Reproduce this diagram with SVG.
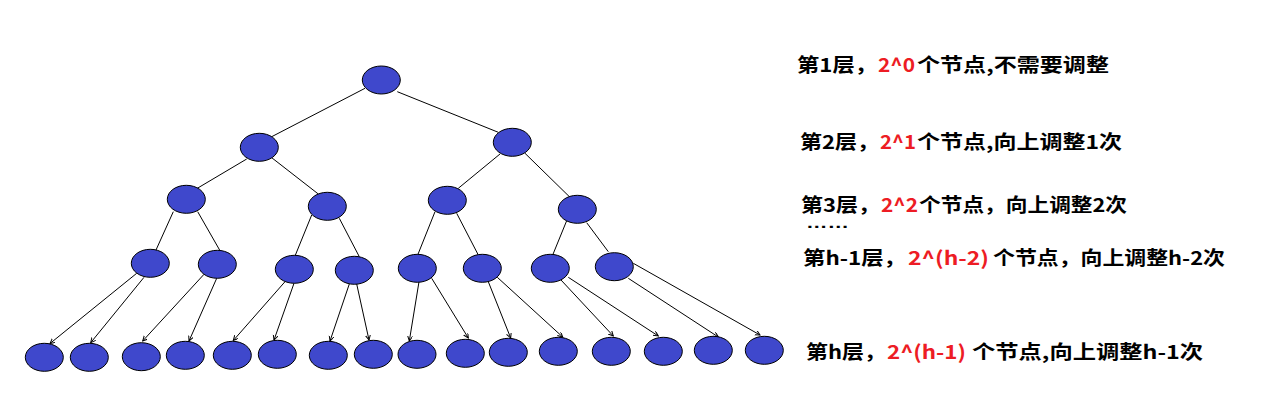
<svg xmlns="http://www.w3.org/2000/svg" width="1272" height="403" viewBox="0 0 1272 403">
<style>
.n{fill:#3F48CC;stroke:#000;stroke-width:1}
.e{stroke:#000;stroke-width:1;fill:none}
.a{marker-end:url(#arr)}
.t{font-family:"Noto Sans CJK SC","Liberation Sans",sans-serif;font-size:19px;font-weight:bold;fill:#000}
.r{fill:#ED1C24}
</style>
<defs>
<marker id="arr" markerWidth="8" markerHeight="8" refX="5" refY="2.5" orient="auto" markerUnits="userSpaceOnUse">
<path d="M0,0 L5,2.5 L0,5" fill="none" stroke="#000" stroke-width="1"/>
</marker>
</defs>
<rect width="1272" height="403" fill="#fff"/>
<g id="connectors">
<line class="e" x1="365" y1="88.3" x2="271.7" y2="136.7"/>
<line class="e" x1="397.3" y1="91.7" x2="498.3" y2="132.3"/>
<line class="e" x1="246.7" y1="159" x2="197.3" y2="188.3"/>
<line class="e" x1="271.7" y1="157.7" x2="318.3" y2="194"/>
<line class="e" x1="500" y1="154" x2="458.3" y2="188.3"/>
<line class="e" x1="525" y1="153.3" x2="570" y2="197.3"/>
<line class="e" x1="173.3" y1="211.7" x2="155.7" y2="250.7"/>
<line class="e" x1="197.7" y1="211.7" x2="220" y2="250.7"/>
<line class="e" x1="311.7" y1="215" x2="295" y2="256"/>
<line class="e" x1="339.3" y1="218.3" x2="359.3" y2="256.7"/>
<line class="e" x1="435" y1="211.7" x2="417.7" y2="255"/>
<line class="e" x1="456.7" y1="213.3" x2="478.3" y2="255"/>
<line class="e" x1="566.7" y1="220.7" x2="552.7" y2="255"/>
<line class="e" x1="586.7" y1="222.7" x2="608.3" y2="251.7"/>
<line class="e a" x1="136.7" y1="273.3" x2="50" y2="343.5"/>
<line class="e a" x1="144" y1="277.3" x2="90.7" y2="342.7"/>
<line class="e a" x1="204" y1="274.3" x2="142.7" y2="341"/>
<line class="e a" x1="216.7" y1="278.3" x2="189" y2="341"/>
<line class="e a" x1="285" y1="281.7" x2="233.3" y2="340.5"/>
<line class="e a" x1="294" y1="283.3" x2="274" y2="340"/>
<line class="e a" x1="349.3" y1="284" x2="330" y2="341"/>
<line class="e a" x1="356.7" y1="284" x2="369" y2="340"/>
<line class="e a" x1="419" y1="281.7" x2="409.3" y2="341"/>
<line class="e a" x1="431.7" y1="278.3" x2="468.3" y2="338"/>
<line class="e a" x1="488.3" y1="281.7" x2="510.7" y2="338"/>
<line class="e a" x1="497.3" y1="277.3" x2="562.7" y2="337"/>
<line class="e a" x1="561" y1="280" x2="613.3" y2="336"/>
<line class="e a" x1="568.3" y1="277.3" x2="658.3" y2="336"/>
<line class="e a" x1="628.3" y1="278.3" x2="718.3" y2="337"/>
<line class="e a" x1="633.3" y1="263.3" x2="760" y2="335"/>
</g>
<g id="n1"><ellipse class="n" cx="381.3" cy="80" rx="19" ry="14"/></g>
<g id="n2"><ellipse class="n" cx="259.3" cy="147.3" rx="19" ry="14"/></g>
<g id="n3"><ellipse class="n" cx="512.3" cy="142.3" rx="19" ry="14"/></g>
<g id="n4"><ellipse class="n" cx="186.3" cy="199.3" rx="19" ry="14"/></g>
<g id="n5"><ellipse class="n" cx="327.3" cy="206.3" rx="19" ry="14"/></g>
<g id="n6"><ellipse class="n" cx="447.3" cy="200.3" rx="19" ry="14"/></g>
<g id="n7"><ellipse class="n" cx="577.3" cy="209.3" rx="19" ry="14"/></g>
<g id="n8"><ellipse class="n" cx="150.3" cy="263.3" rx="19" ry="14"/></g>
<g id="n9"><ellipse class="n" cx="217.3" cy="264.3" rx="19" ry="14"/></g>
<g id="n10"><ellipse class="n" cx="294.3" cy="269.3" rx="19" ry="14"/></g>
<g id="n11"><ellipse class="n" cx="354.3" cy="270.3" rx="19" ry="14"/></g>
<g id="n12"><ellipse class="n" cx="417.3" cy="268.3" rx="19" ry="14"/></g>
<g id="n13"><ellipse class="n" cx="482.3" cy="268.3" rx="19" ry="14"/></g>
<g id="n14"><ellipse class="n" cx="550.3" cy="268.3" rx="19" ry="14"/></g>
<g id="n15"><ellipse class="n" cx="614.3" cy="266.7" rx="19" ry="14"/></g>
<g id="n16"><ellipse class="n" cx="44.3" cy="357.3" rx="19" ry="14"/></g>
<g id="n17"><ellipse class="n" cx="89.3" cy="357.3" rx="19" ry="14"/></g>
<g id="n18"><ellipse class="n" cx="141.3" cy="356.7" rx="19" ry="14"/></g>
<g id="n19"><ellipse class="n" cx="185.3" cy="355.3" rx="19" ry="14"/></g>
<g id="n20"><ellipse class="n" cx="232.3" cy="355.3" rx="19" ry="14"/></g>
<g id="n21"><ellipse class="n" cx="277.3" cy="354.3" rx="19" ry="14"/></g>
<g id="n22"><ellipse class="n" cx="328.3" cy="355.3" rx="19" ry="14"/></g>
<g id="n23"><ellipse class="n" cx="373.3" cy="354.3" rx="19" ry="14"/></g>
<g id="n24"><ellipse class="n" cx="417" cy="354.3" rx="19" ry="14"/></g>
<g id="n25"><ellipse class="n" cx="465.3" cy="353.3" rx="19" ry="14"/></g>
<g id="n26"><ellipse class="n" cx="508.3" cy="352.3" rx="19" ry="14"/></g>
<g id="n27"><ellipse class="n" cx="558.3" cy="351.3" rx="19" ry="14"/></g>
<g id="n28"><ellipse class="n" cx="611.3" cy="351.3" rx="19" ry="14"/></g>
<g id="n29"><ellipse class="n" cx="663.3" cy="351.3" rx="19" ry="14"/></g>
<g id="n30"><ellipse class="n" cx="713.3" cy="350.3" rx="19" ry="14"/></g>
<g id="n31"><ellipse class="n" cx="764.3" cy="350.3" rx="19" ry="14"/></g>
<g id="labels">
<text class="t" x="797" y="72" textLength="80" lengthAdjust="spacingAndGlyphs">第1层，</text>
<text class="t r" x="878" y="72" textLength="37" lengthAdjust="spacingAndGlyphs">2^0</text>
<text class="t" x="917" y="72" textLength="192" lengthAdjust="spacingAndGlyphs">个节点,不需要调整</text>

<text class="t" x="800" y="149" textLength="79" lengthAdjust="spacingAndGlyphs">第2层，</text>
<text class="t r" x="880" y="149" textLength="36" lengthAdjust="spacingAndGlyphs">2^1</text>
<text class="t" x="917" y="149" textLength="205" lengthAdjust="spacingAndGlyphs">个节点,向上调整1次</text>

<text class="t" x="801" y="212" textLength="79" lengthAdjust="spacingAndGlyphs">第3层，</text>
<text class="t r" x="881" y="212" textLength="37" lengthAdjust="spacingAndGlyphs">2^2</text>
<text class="t" x="919" y="212" textLength="208" lengthAdjust="spacingAndGlyphs">个节点，向上调整2次</text>
<text x="806" y="227.5" font-family="Liberation Sans, sans-serif" font-size="14" font-weight="bold" textLength="43" lengthAdjust="spacingAndGlyphs">……</text>

<text class="t" x="803" y="265" textLength="103" lengthAdjust="spacingAndGlyphs">第h-1层，</text>
<text class="t r" x="908" y="265" textLength="81" lengthAdjust="spacingAndGlyphs">2^(h-2)</text>
<text class="t" x="993" y="265" textLength="232" lengthAdjust="spacingAndGlyphs">个节点，向上调整h-2次</text>

<text class="t" x="806" y="359" textLength="80" lengthAdjust="spacingAndGlyphs">第h层，</text>
<text class="t r" x="887" y="359" textLength="79" lengthAdjust="spacingAndGlyphs">2^(h-1)</text>
<text class="t" x="972" y="359" textLength="231" lengthAdjust="spacingAndGlyphs">个节点,向上调整h-1次</text>
</g>
</svg>
